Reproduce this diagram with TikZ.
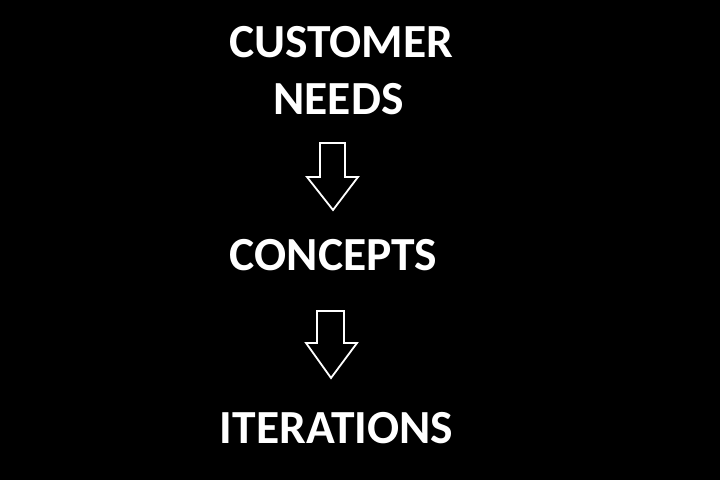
\documentclass[tikz,border=0pt]{standalone}
\usepackage{fontspec}
\setmainfont{Carlito}
\begin{document}
\begin{tikzpicture}[x=1pt,y=1pt,
  lbl/.style={text=white,font=\fontsize{47.5}{52}\selectfont\bfseries,anchor=base,inner sep=0pt},
  blockarrow/.style={draw=white,line width=1.8pt,fill=black,line join=miter}]
\fill[black] (0,0) rectangle (720,480);
\useasboundingbox (0,0) rectangle (720,480);
\node[lbl] (cust) at (341,422) {CUSTOMER};
\node[lbl] (needs) at (338.5,365) {NEEDS};
\node[lbl] (conc) at (333.5,210) {CONCEPTS};
\node[lbl] (iter) at (336.5,37) {ITERATIONS};
% block arrow 1
\draw[blockarrow] (320,337) -- (345,337) -- (345,303) -- (358,303) -- (333,270) -- (307,303) -- (320,303) -- cycle;
% block arrow 2
\draw[blockarrow] (317,169) -- (344,169) -- (344,137) -- (357,137) -- (331,102) -- (306,137) -- (317,137) -- cycle;
\end{tikzpicture}
\end{document}
